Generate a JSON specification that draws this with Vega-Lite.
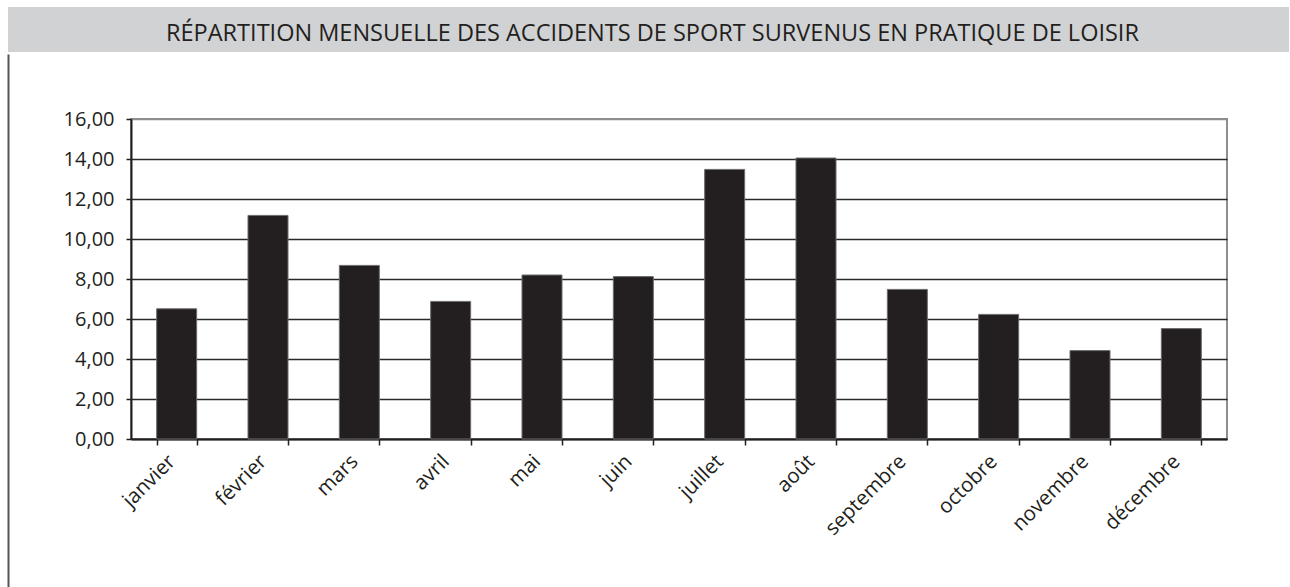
{
  "$schema": "https://vega.github.io/schema/vega-lite/v6.json",
  "padding": {"left": 8, "top": 7, "right": 0, "bottom": 0},
  "autosize": {"type": "pad"},
  "background": "white",
  "spacing": 0,
  "config": {"font": "Open Sans", "view": {"stroke": null}, "concat": {"spacing": 0}},
  "vconcat": [
    {
      "width": 1281,
      "height": 45,
      "view": {"fill": "#d1d2d4", "stroke": null},
      "data": {"values": [{"titre": "RÉPARTITION MENSUELLE DES ACCIDENTS DE SPORT SURVENUS EN PRATIQUE DE LOISIR"}]},
      "mark": {"type": "text", "font": "Open Sans", "fontSize": 23.5, "color": "#231f20", "baseline": "alphabetic", "dy": 11.5, "dx": 4},
      "encoding": {"text": {"field": "titre"}}
    },
    {
      "spacing": 0,
      "hconcat": [
        {
          "width": 1,
          "height": 320,
          "view": {"fill": null, "stroke": null},
          "data": {"values": [{"v": 0}]},
          "mark": {"type": "text"},
          "encoding": {
            "text": {"value": ""},
            "y": {
              "field": "v",
              "type": "quantitative",
              "scale": {"domain": [0, 1], "range": [469, -65]},
              "axis": {"title": null, "labels": false, "ticks": false, "grid": false, "minExtent": 0, "domainColor": "#555555", "domainWidth": 2}
            }
          }
        },
        {
          "width": 1096,
          "height": 320,
          "view": {"stroke": "#8e8e8e", "strokeWidth": 2, "fill": "white"},
          "data": {"values": [
            {"mois": "janvier", "pourcentage": 6.51},
            {"mois": "février", "pourcentage": 11.18},
            {"mois": "mars", "pourcentage": 8.68},
            {"mois": "avril", "pourcentage": 6.88},
            {"mois": "mai", "pourcentage": 8.2},
            {"mois": "juin", "pourcentage": 8.12},
            {"mois": "juillet", "pourcentage": 13.48},
            {"mois": "août", "pourcentage": 14.05},
            {"mois": "septembre", "pourcentage": 7.48},
            {"mois": "octobre", "pourcentage": 6.23},
            {"mois": "novembre", "pourcentage": 4.42},
            {"mois": "décembre", "pourcentage": 5.52}
          ]},
          "mark": {"type": "bar", "color": "#231f20", "stroke": "#6d6d6d", "strokeWidth": 1},
          "encoding": {
            "x": {
              "field": "mois",
              "type": "nominal",
              "sort": null,
              "scale": {"paddingInner": 0.562, "paddingOuter": 0.281},
              "axis": {
                "title": null,
                "labelAngle": -45,
                "labelAlign": "right",
                "labelBaseline": "middle",
                "labelFont": "Open Sans",
                "labelFontSize": 20.5,
                "labelColor": "#231f20",
                "labelPadding": 13,
                "labelOffset": -5,
                "tickBand": "extent",
                "tickSize": 6,
                "tickColor": "#231f20",
                "tickWidth": 1.5,
                "domainColor": "#231f20",
                "domainWidth": 2
              }
            },
            "y": {
              "field": "pourcentage",
              "type": "quantitative",
              "scale": {"domain": [0, 16], "nice": false},
              "axis": {
                "title": " ",
                "titleX": -121,
                "titleY": -66,
                "titleAngle": 0,
                "titleAlign": "left",
                "titleBaseline": "top",
                "titleFontSize": 1,
                "values": [0, 2, 4, 6, 8, 10, 12, 14, 16],
                "labelExpr": "replace(format(datum.value, '.2f'), '.', ',')",
                "labelFont": "Open Sans",
                "labelFontSize": 20,
                "labelColor": "#231f20",
                "labelPadding": 12,
                "tickSize": 5,
                "tickColor": "#231f20",
                "tickWidth": 1.5,
                "domainColor": "#231f20",
                "domainWidth": 2,
                "grid": true,
                "gridColor": {"condition": {"test": "datum.value == 16", "value": "#8e8e8e"}, "value": "#2a2a2a"},
                "gridWidth": 1.6
              }
            }
          }
        }
      ]
    }
  ]
}
